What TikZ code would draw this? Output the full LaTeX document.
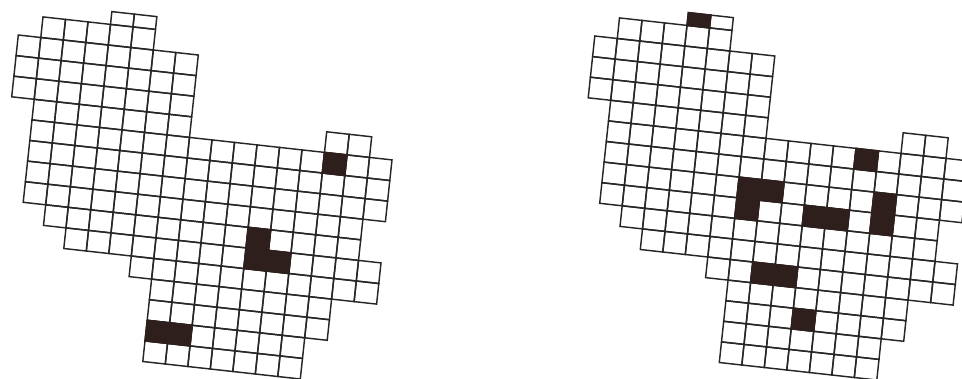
\documentclass[tikz,border=0pt]{standalone}
\usepackage{tikz}

\definecolor{cellink}{RGB}{46,30,28}
\tikzset{
	gridline/.style={black!85, line width=1.45pt, line join=miter},
	shadecell/.style={fill=cellink, draw=cellink, line width=1.45pt, line join=miter},
}
% outline of the region, one square per cell (row 0 is cut short)
\newcommand{\regiongrid}{%
	\foreach \c in {4,5}
		\draw[gridline] (\c,0.38) -- (\c+1,0.38) -- (\c+1,1) -- (\c,1) -- cycle;
	\foreach \r/\a/\b in {1/1/5, 2/0/7, 3/0/7, 4/0/7, 5/1/7, 5/14/15, 6/1/16, 7/1/16, 8/1/16,
		9/1/15, 10/2/15, 11/3/16, 12/6/16, 13/7/14, 14/7/14, 15/7/13, 16/7/13} {
		\foreach \c in {\a,...,\b}
			\draw[gridline] (\c,\r) -- (\c+1,\r) -- (\c+1,\r+1) -- (\c,\r+1) -- cycle;
	}
}

\begin{document}
\begin{tikzpicture}[x=1pt, y=-1pt]
	\useasboundingbox (0,0) rectangle (962,378);
	\clip (0,0) rectangle (962,378);
	% left map
	\begin{scope}[shift={(22.7,-6.2)}, x={(22.5pt,-2.5pt)}, y={(-2.2pt,-20.6pt)}]
		\regiongrid
		\foreach \c/\r in {14/6, 11/10, 11/11, 12/11, 7/15, 8/15}
			\filldraw[shadecell] (\c,\r) -- (\c+1,\r) -- (\c+1,\r+1) -- (\c,\r+1) -- cycle;
	\end{scope}
	% right map
	\begin{scope}[shift={(599.2,-5.2)}, x={(22.5pt,-2.5pt)}, y={(-2.2pt,-20.6pt)}]
		\regiongrid
		\filldraw[shadecell] (4,0.38) -- (5,0.38) -- (5,1) -- (4,1) -- cycle;
		\foreach \c/\r in {12/6, 7/8, 8/8, 7/9, 10/9, 11/9, 13/8, 13/9, 8/12, 9/12, 10/14}
			\filldraw[shadecell] (\c,\r) -- (\c+1,\r) -- (\c+1,\r+1) -- (\c,\r+1) -- cycle;
	\end{scope}
\end{tikzpicture}
\end{document}
